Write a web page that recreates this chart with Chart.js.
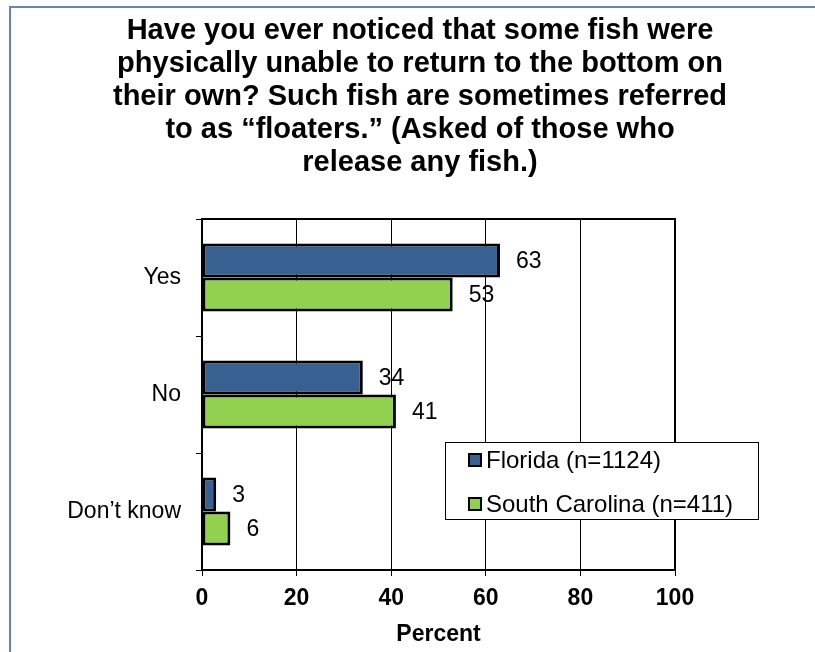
<!DOCTYPE html>
<html>
<head>
<meta charset="utf-8">
<script src="https://cdn.jsdelivr.net/npm/chart.js@4.4.1/dist/chart.umd.min.js"></script>
<style>
  html, body { margin: 0; padding: 0; background: #fff; overflow: hidden; }
  #wrap { position: relative; width: 815px; height: 652px; }
  #frame {
    position: absolute; left: 9px; top: 6px; width: 900px; height: 700px;
    border-left: 2px solid #5f86ba; border-top: 2px solid #5f86ba;
  }
  canvas { position: absolute; left: 0; top: 0; }
</style>
</head>
<body>
<div id="wrap">
  <div id="frame"></div>
  <canvas id="floaters" width="815" height="652"></canvas>
</div>
<script>
const answers = ['Yes', 'No', 'Don\u2019t know'];
const floridaPct = [63, 34, 3];
const carolinaPct = [53, 41, 6];
const seriesNames = ['Florida (n=1124)', 'South Carolina (n=411)'];
const percentTicks = [0, 20, 40, 60, 80, 100];

const titleLines = [
  'Have you ever noticed that some fish were',
  'physically unable to return to the bottom on',
  'their own? Such fish are sometimes referred',
  'to as \u201cfloaters.\u201d (Asked of those who',
  'release any fish.)'
];

const PLAIN = '"Liberation Sans", Arial, sans-serif';

// black outline around the whole plot area
const plotBox = {
  id: 'plotBox',
  afterDraw(chart) {
    const { ctx, chartArea: a } = chart;
    ctx.save();
    ctx.strokeStyle = '#000';
    ctx.lineWidth = 2;
    ctx.strokeRect(a.left, a.top, a.right - a.left, a.bottom - a.top);
    ctx.restore();
  }
};

// value printed just past the end of each bar
const barValues = {
  id: 'barValues',
  afterDatasetsDraw(chart) {
    const ctx = chart.ctx;
    ctx.save();
    ctx.font = '23px ' + PLAIN;
    ctx.fillStyle = '#000';
    ctx.textBaseline = 'middle';
    ctx.textAlign = 'left';
    chart.data.datasets.forEach((ds, i) => {
      chart.getDatasetMeta(i).data.forEach((bar, j) => {
        ctx.fillText(String(ds.data[j]), bar.x + 16, bar.y + 1);
      });
    });
    ctx.restore();
  }
};

// boxed legend sitting inside the lower right of the plot
const insetLegend = {
  id: 'insetLegend',
  afterDraw(chart) {
    const { ctx, chartArea: a } = chart;
    const x0 = a.left + 243, y0 = a.top + 223, w = 313, h = 77;
    ctx.save();
    ctx.fillStyle = '#fff';
    ctx.fillRect(x0, y0, w, h);
    ctx.strokeStyle = '#000';
    ctx.lineWidth = 1;
    ctx.strokeRect(x0 + 0.5, y0 + 0.5, w, h);
    ctx.font = '24px ' + PLAIN;
    ctx.textBaseline = 'middle';
    chart.data.datasets.forEach((ds, i) => {
      const cy = y0 + 18 + i * 44;
      ctx.fillStyle = ds.backgroundColor;
      ctx.fillRect(x0 + 24, cy - 6, 12, 12);
      ctx.lineWidth = 2;
      ctx.strokeStyle = '#000';
      ctx.strokeRect(x0 + 24, cy - 6, 12, 12);
      ctx.fillStyle = '#000';
      ctx.fillText(ds.label, x0 + 41, cy + 1);
    });
    ctx.restore();
  }
};

new Chart(document.getElementById('floaters'), {
  type: 'bar',
  data: {
    labels: answers,
    datasets: [
      { label: seriesNames[0], data: floridaPct, backgroundColor: '#386192', borderColor: '#000', borderWidth: 3, borderSkipped: false, yAxisID: 'y' },
      { label: seriesNames[1], data: carolinaPct, backgroundColor: '#92d04f', borderColor: '#000', borderWidth: 3, borderSkipped: false, yAxisID: 'y' }
    ]
  },
  options: {
    indexAxis: 'y',
    responsive: false,
    animation: false,
    devicePixelRatio: 1,
    layout: { padding: { left: 25, right: 0, top: 0, bottom: 0 } },
    datasets: { bar: { categoryPercentage: 0.58, barPercentage: 1.0 } },
    plugins: {
      legend: { display: false },
      tooltip: { enabled: false },
      title: {
        display: true,
        text: titleLines,
        color: '#000',
        font: { family: PLAIN, size: 29, weight: 'bold', lineHeight: '33px' },
        padding: { top: 14, bottom: 40 }
      }
    },
    scales: {
      x: {
        type: 'linear',
        min: 0,
        max: 100,
        afterBuildTicks: s => { s.ticks = percentTicks.map(v => ({ value: v })); },
        afterFit: s => { s.height = 82; },
        grid: { color: '#000', lineWidth: 1, tickLength: 6, tickColor: '#000' },
        border: { display: true, color: '#000', width: 2 },
        ticks: { color: '#000', padding: 9, font: { family: PLAIN, size: 23, weight: 'bold' } },
        title: {
          display: true, text: 'Percent', color: '#000',
          font: { family: PLAIN, size: 23, weight: 'bold' },
          padding: { top: 0, bottom: 4 }
        }
      },
      y: {
        type: 'category',
        offset: true,
        afterFit: s => { s.width = 177; },
        grid: { offset: true, drawOnChartArea: false, tickLength: 6, color: '#000' },
        border: { display: true, color: '#000', width: 2 },
        ticks: { color: '#000', padding: 15, font: { family: PLAIN, size: 23 } }
      },
      yRight: {
        type: 'category',
        position: 'right',
        afterFit: s => { s.width = 140; },
        grid: { display: false },
        border: { display: false },
        ticks: { display: false }
      }
    }
  },
  plugins: [plotBox, barValues, insetLegend]
});
</script>
</body>
</html>
